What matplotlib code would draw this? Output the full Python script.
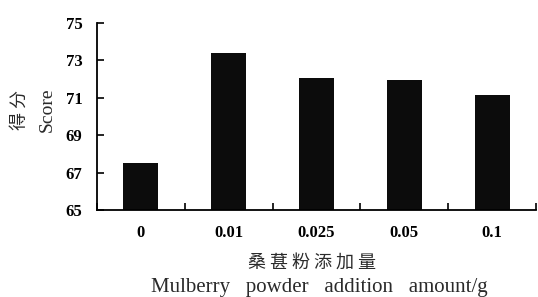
import numpy as np
import matplotlib.pyplot as plt

# data
amounts = ["0", "0.01", "0.025", "0.05", "0.1"]
scores = [67.5, 73.4, 72.07, 71.95, 71.15]
yticks = [65, 67, 69, 71, 73, 75]

serif = ["Liberation Serif", "DejaVu Serif"]
cjk = ["Noto Sans CJK SC", "DejaVu Sans"]
txt = "#2a2a2a"

fig = plt.figure(figsize=(5.38, 2.97), dpi=100)
ax = fig.add_axes([97 / 538, 1 - 210 / 297, 439 / 538, 187 / 297])

x = np.arange(len(amounts))
ax.bar(x, scores, width=0.4, color="#0c0c0c")

ax.set_xlim(-0.5, len(amounts) - 0.5)
ax.set_ylim(65, 75)
ax.set_yticks(yticks)
ax.set_yticklabels([str(v) for v in yticks], fontfamily=serif,
                   fontweight="bold", fontsize=12)
ax.set_xticks(x)
ax.set_xticklabels(amounts, fontfamily=serif, fontweight="bold", fontsize=12)
ax.set_xticks(np.arange(len(amounts) + 1) - 0.5, minor=True)

ax.tick_params(axis="x", which="major", length=0, pad=10.5)
ax.tick_params(axis="x", which="minor", direction="in", length=5, width=1.2)
ax.tick_params(axis="y", direction="in", length=5, width=1.2, pad=10.5)

for s in ["top", "right"]:
    ax.spines[s].set_visible(False)
for s in ["left", "bottom"]:
    ax.spines[s].set_linewidth(1.3)

# axis titles
fig.text(20 / 538, 1 - 110 / 297, " ".join("得分"), rotation=90, ha="center",
         va="center", fontfamily=cjk, fontsize=13, color=txt)
fig.text(47 / 538, 1 - 110 / 297, "Score", rotation=90, ha="center",
         va="center", fontfamily=serif, fontsize=14, color=txt)
fig.text(312 / 538, 1 - 262.5 / 297, " ".join("桑葚粉添加量"), ha="center",
         va="center", fontfamily=cjk, fontsize=13, color=txt)
fig.text(319 / 538, 1 - 292 / 297, "Mulberry   powder   addition   amount/g",
         ha="center", va="baseline", fontfamily=serif, fontsize=15,
         color=txt)

fig.savefig("out.png", dpi=100)
